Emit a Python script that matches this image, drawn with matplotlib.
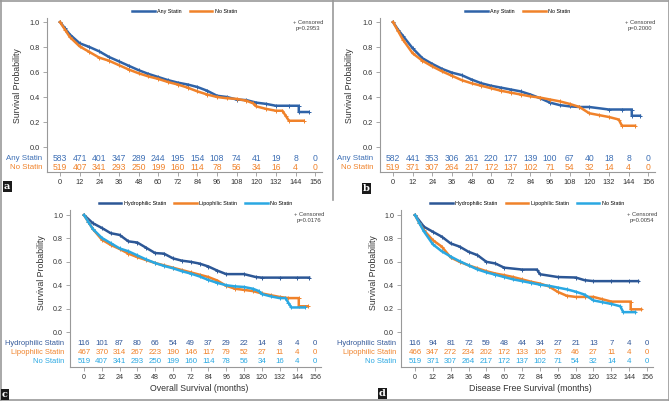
import matplotlib
matplotlib.use("Agg")
import matplotlib.pyplot as plt
from matplotlib.lines import Line2D

plt.rcParams['font.family'] = ['Liberation Sans', 'DejaVu Sans']

# ---- colours ----
C_ANY = '#2f63a8'
C_HYD = '#2c5796'
C_ORG = '#f0822a'
C_NO3 = '#2aa8e2'

# ---- number at risk ----
risk_times = [0, 12, 24, 36, 48, 60, 72, 84, 96, 108, 120, 132, 144, 156]

risk_a_any = [583, 471, 401, 347, 289, 244, 195, 154, 108, 74, 41, 19, 8, 0]
risk_a_no = [519, 407, 341, 293, 250, 199, 160, 114, 78, 56, 34, 16, 4, 0]
risk_b_any = [582, 441, 353, 306, 261, 220, 177, 139, 100, 67, 40, 18, 8, 0]
risk_b_no = [519, 371, 307, 264, 217, 172, 137, 102, 71, 54, 32, 14, 4, 0]
risk_c_hyd = [116, 101, 87, 80, 66, 54, 49, 37, 29, 22, 14, 8, 4, 0]
risk_c_lip = [467, 370, 314, 267, 223, 190, 146, 117, 79, 52, 27, 11, 4, 0]
risk_c_no = [519, 407, 341, 293, 250, 199, 160, 114, 78, 56, 34, 16, 4, 0]
risk_d_hyd = [116, 94, 81, 72, 59, 48, 44, 34, 27, 21, 13, 7, 4, 0]
risk_d_lip = [466, 347, 272, 234, 202, 172, 133, 105, 73, 46, 27, 11, 4, 0]
risk_d_no = [519, 371, 307, 264, 217, 172, 137, 102, 71, 54, 32, 14, 4, 0]

# ---- survival curves ----
t_any_os = [0, 3, 6, 12, 18, 24, 30, 36, 42, 48, 54, 60, 66, 72, 78, 84, 90, 96,
            102, 108, 114, 120, 126, 132, 140, 146, 146, 152]
s_any_os = [1.0, 0.95, 0.90, 0.83, 0.80, 0.765, 0.72, 0.685, 0.65, 0.615, 0.585, 0.56,
            0.535, 0.515, 0.50, 0.48, 0.45, 0.41, 0.40, 0.38, 0.375, 0.355, 0.345,
            0.33, 0.33, 0.33, 0.28, 0.28]

t_no_os = [0, 3, 6, 12, 18, 24, 30, 36, 42, 48, 54, 60, 66, 72, 78, 84, 90, 96,
           102, 108, 114, 118, 120, 126, 132, 136, 138, 140, 149]
s_no_os = [1.0, 0.94, 0.88, 0.805, 0.76, 0.715, 0.69, 0.655, 0.62, 0.59, 0.565, 0.545,
           0.52, 0.50, 0.475, 0.445, 0.42, 0.40, 0.39, 0.385, 0.37, 0.35, 0.325,
           0.305, 0.29, 0.29, 0.25, 0.21, 0.21]

t_any_dfs = [0, 3, 6, 12, 18, 24, 30, 36, 42, 48, 54, 60, 66, 72, 78, 84, 90, 96,
             102, 108, 114, 120, 132, 140, 146, 146, 151]
s_any_dfs = [1.0, 0.94, 0.89, 0.79, 0.71, 0.665, 0.625, 0.595, 0.575, 0.54, 0.51, 0.49,
             0.475, 0.46, 0.445, 0.42, 0.39, 0.355, 0.335, 0.325, 0.32, 0.32, 0.30,
             0.30, 0.30, 0.25, 0.25]

t_no_dfs = [0, 3, 6, 12, 18, 24, 30, 36, 42, 48, 54, 60, 66, 72, 78, 84, 90, 96,
            102, 108, 114, 120, 126, 132, 138, 140, 148]
s_no_dfs = [1.0, 0.93, 0.86, 0.75, 0.69, 0.645, 0.605, 0.57, 0.535, 0.51, 0.49, 0.47,
            0.45, 0.435, 0.42, 0.405, 0.395, 0.38, 0.365, 0.345, 0.32, 0.27, 0.255,
            0.24, 0.22, 0.17, 0.17]

t_hyd_os = [0, 6, 12, 18, 24, 30, 36, 42, 48, 54, 60, 66, 72, 78, 84, 90, 96, 108,
            116, 120, 132, 144, 152]
s_hyd_os = [1.0, 0.93, 0.89, 0.845, 0.83, 0.775, 0.765, 0.72, 0.675, 0.67, 0.63, 0.61,
            0.60, 0.585, 0.56, 0.525, 0.495, 0.495, 0.47, 0.465, 0.465, 0.465, 0.465]

t_lip_os = [0, 3, 6, 12, 18, 24, 30, 36, 42, 48, 54, 60, 66, 72, 78, 84, 90, 96,
            102, 108, 114, 120, 126, 132, 138, 145, 145, 151]
s_lip_os = [1.0, 0.94, 0.88, 0.79, 0.745, 0.71, 0.67, 0.64, 0.615, 0.59, 0.57, 0.55,
            0.53, 0.51, 0.49, 0.47, 0.44, 0.395, 0.37, 0.36, 0.35, 0.33, 0.315, 0.30,
            0.29, 0.29, 0.22, 0.22]

t_hyd_dfs = [0, 6, 12, 18, 24, 30, 36, 42, 48, 54, 60, 72, 82, 84, 96, 108, 114, 120,
             132, 144, 150]
s_hyd_dfs = [1.0, 0.90, 0.857, 0.815, 0.757, 0.73, 0.686, 0.657, 0.60, 0.586, 0.55,
             0.534, 0.534, 0.494, 0.47, 0.466, 0.443, 0.435, 0.435, 0.435, 0.435]

t_lip_dfs = [0, 3, 6, 12, 18, 24, 30, 36, 42, 48, 54, 60, 66, 72, 78, 84, 90, 96,
             102, 108, 114, 120, 126, 132, 145, 145, 152]
s_lip_dfs = [1.0, 0.93, 0.87, 0.785, 0.73, 0.637, 0.60, 0.57, 0.545, 0.52, 0.50, 0.486,
             0.47, 0.45, 0.43, 0.414, 0.39, 0.343, 0.31, 0.30, 0.30, 0.30, 0.28, 0.26,
             0.26, 0.194, 0.194]

W, H = 669, 401
fig = plt.figure(figsize=(W / 100, H / 100), dpi=100)


def px_axes(l, t, r, b):
    return fig.add_axes([l / W, (H - b) / H, (r - l) / W, (b - t) / H])


def draw_panel(ax, curves, rows, xlim, ylim, pval, row_x, row_y, ylab_x, cens_x,
               xlabel=None, fs_num=6.2, fs_row=5.7, fs_tick=5.3):
    for t, s, col, name in curves:
        ax.plot(t, s, color=col, lw=1.8, marker='+', ms=3.2, mew=0.7, label=name)
    for (vals, col, name), y in zip(rows, row_y):
        ax.text(row_x, y, name, color=col, ha='right', va='center', fontsize=fs_row)
        for tt, v in zip(risk_times, vals):
            ax.text(tt, y, str(v), color=col, ha='center', va='center', fontsize=fs_num)
    ax.set_xlim(*xlim)
    ax.set_ylim(*ylim)
    ax.set_xticks(risk_times)
    ax.set_yticks([0, 0.2, 0.4, 0.6, 0.8, 1.0])
    ax.set_yticklabels(['0.0', '0.2', '0.4', '0.6', '0.8', '1.0'])
    for s in ['top', 'right']:
        ax.spines[s].set_visible(False)
    for s in ['left', 'bottom']:
        ax.spines[s].set_color('#999999')
        ax.spines[s].set_linewidth(0.8)
    ax.tick_params(labelsize=fs_tick, colors='#999999', labelcolor='#333333', length=3,
                   width=0.6, pad=2)
    ax.set_ylabel('Survival Probability', fontsize=6.3, color='#333333')
    ax.yaxis.set_label_coords(ylab_x, 0.56 if xlabel is None else 0.6)
    if xlabel:
        ax.set_xlabel(xlabel, fontsize=6.3, color='#333333')
        ax.xaxis.set_label_coords(0.515, -0.11)
    ax.text(cens_x, 0.985, '+ Censored\np=' + pval, transform=ax.transAxes,
            ha='center', va='top', fontsize=4.2, color='#444444', linespacing=1.2)
    ax.legend(loc='lower center', bbox_to_anchor=(0.5, 1.0), ncol=len(curves),
              frameon=False, fontsize=3.9, handlelength=4.2, columnspacing=1.5,
              handletextpad=0.4, borderaxespad=0.3, markerscale=0)


ax_a = px_axes(47, 18, 322, 172)
draw_panel(ax_a, [(t_any_os, s_any_os, C_ANY, 'Any Statin'),
                  (t_no_os, s_no_os, C_ORG, 'No Statin')],
           [(risk_a_any, '#3d6fb5', 'Any Statin'), (risk_a_no, C_ORG, 'No Statin')],
           (-7.95, 160.2), (-0.2, 1.032), '0.2953', -11, [-0.088, -0.16], -0.09, 0.949)

ax_b = px_axes(380, 18, 655, 172)
draw_panel(ax_b, [(t_any_dfs, s_any_dfs, C_ANY, 'Any Statin'),
                  (t_no_dfs, s_no_dfs, C_ORG, 'No Statin')],
           [(risk_b_any, '#3d6fb5', 'Any Statin'), (risk_b_no, C_ORG, 'No Statin')],
           (-7.95, 160.2), (-0.2, 1.032), '0.2000', -12.2, [-0.088, -0.16], -0.095, 0.945)

ax_c = px_axes(70, 210, 321, 367)
draw_panel(ax_c, [(t_hyd_os, s_hyd_os, C_HYD, 'Hydrophilic Statin'),
                  (t_lip_os, s_lip_os, C_ORG, 'Lipophilic Statin'),
                  (t_no_os, s_no_os, C_NO3, 'No Statin')],
           [(risk_c_hyd, '#33599a', 'Hydrophilic Statin'),
            (risk_c_lip, C_ORG, 'Lipophilic Statin'),
            (risk_c_no, C_NO3, 'No Statin')],
           (-9.45, 160), (-0.299, 1.043), '0.0176', -13.5, [-0.094, -0.171, -0.248],
           -0.096, 0.952, xlabel='Overall Survival (months)',
           fs_num=5.7, fs_row=5.4, fs_tick=5.1)

ax_d = px_axes(401, 210, 653, 367)
draw_panel(ax_d, [(t_hyd_dfs, s_hyd_dfs, C_HYD, 'Hydrophilic Statin'),
                  (t_lip_dfs, s_lip_dfs, C_ORG, 'Lipophilic Statin'),
                  (t_no_dfs, s_no_dfs, C_NO3, 'No Statin')],
           [(risk_d_hyd, '#33599a', 'Hydrophilic Statin'),
            (risk_d_lip, C_ORG, 'Lipophilic Statin'),
            (risk_d_no, C_NO3, 'No Statin')],
           (-9.4, 160), (-0.299, 1.043), '0.0054', -12.8, [-0.094, -0.171, -0.248],
           -0.091, 0.956, xlabel='Disease Free Survival (months)',
           fs_num=5.7, fs_row=5.4, fs_tick=5.1)

# borders
border = dict(color='#9a9a9a', lw=1.2, transform=fig.transFigure)
fig.add_artist(Line2D([0.5 / W, 0.5 / W], [0, 1], **border))
fig.add_artist(Line2D([1 - 0.5 / W, 1 - 0.5 / W], [0, 1], **border))
fig.add_artist(Line2D([0, 1], [1 - 0.5 / H, 1 - 0.5 / H], **border))
fig.add_artist(Line2D([0, 1], [1.5 / H, 1.5 / H], **border))
fig.add_artist(Line2D([333 / W, 333 / W], [(H - 200) / H, 1], **border))

# panel letters
lbl = dict(color='white', fontsize=7, fontweight='bold', family='DejaVu Serif',
           ha='left', va='bottom',
           bbox=dict(boxstyle='square,pad=0.15', fc='#1a1a1a', ec='none'))
fig.text(4 / W, (H - 191) / H, 'a', **lbl)
fig.text(363 / W, (H - 193) / H, 'b', **lbl)
fig.text(2 / W, (H - 399) / H, 'c', **lbl)
fig.text(379 / W, (H - 398) / H, 'd', **lbl)

fig.savefig('out.png', dpi=100)
